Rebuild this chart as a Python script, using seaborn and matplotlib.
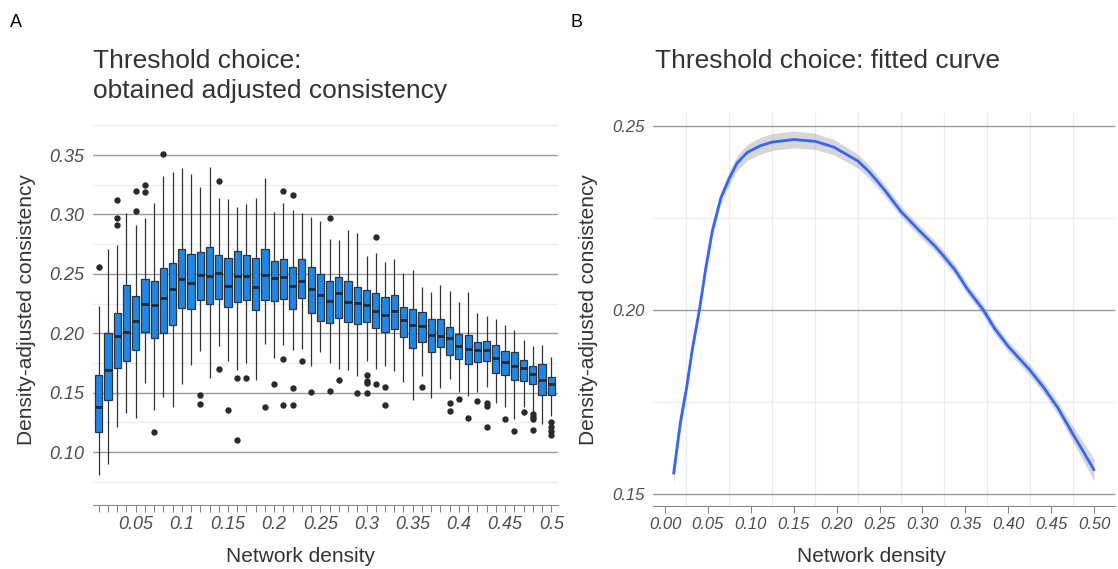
import numpy as np
import pandas as pd
import matplotlib
matplotlib.use("Agg")
import matplotlib.pyplot as plt
import seaborn as sns

# ---------------- data: panel A (box summaries) ----------------
density = [0.01, 0.02, 0.03, 0.04, 0.05, 0.06, 0.07, 0.08, 0.09, 0.10,
           0.11, 0.12, 0.13, 0.14, 0.15, 0.16, 0.17, 0.18, 0.19, 0.20,
           0.21, 0.22, 0.23, 0.24, 0.25, 0.26, 0.27, 0.28, 0.29, 0.30,
           0.31, 0.32, 0.33, 0.34, 0.35, 0.36, 0.37, 0.38, 0.39, 0.40,
           0.41, 0.42, 0.43, 0.44, 0.45, 0.46, 0.47, 0.48, 0.49, 0.50]
whisker_low = [0.081, 0.090, 0.121, 0.133, 0.129, 0.158, 0.135, 0.146, 0.138, 0.157,
               0.173, 0.185, 0.162, 0.189, 0.177, 0.169, 0.175, 0.161, 0.191, 0.179,
               0.190, 0.1855, 0.1866, 0.172, 0.1844, 0.175, 0.170, 0.169, 0.164, 0.1768,
               0.170, 0.1728, 0.1686, 0.1587, 0.1438, 0.164, 0.1452, 0.1537, 0.1616, 0.1503,
               0.1472, 0.1509, 0.1546, 0.1411, 0.1382, 0.1276, 0.1382, 0.1340, 0.1236, 0.1304]
q1 = [0.117, 0.144, 0.171, 0.177, 0.186, 0.201, 0.196, 0.200, 0.207, 0.221,
      0.220, 0.228, 0.225, 0.229, 0.222, 0.2265, 0.228, 0.2195, 0.228, 0.227,
      0.229, 0.220, 0.230, 0.217, 0.210, 0.209, 0.213, 0.2097, 0.2077, 0.2094,
      0.2046, 0.201, 0.2032, 0.197, 0.1878, 0.1923, 0.1842, 0.1883, 0.1818, 0.1787,
      0.1740, 0.1754, 0.1765, 0.1661, 0.1650, 0.1607, 0.1602, 0.1574, 0.1484, 0.1478]
median = [0.138, 0.169, 0.198, 0.201, 0.210, 0.225, 0.224, 0.230, 0.237, 0.246,
          0.242, 0.249, 0.248, 0.251, 0.240, 0.248, 0.248, 0.239, 0.249, 0.2465,
          0.2476, 0.240, 0.2443, 0.2375, 0.232, 0.2274, 0.2336, 0.226, 0.2254, 0.2237,
          0.219, 0.215, 0.219, 0.2111, 0.2067, 0.206, 0.1985, 0.1975, 0.1957, 0.1894,
          0.1866, 0.1855, 0.1861, 0.1790, 0.1756, 0.1720, 0.1706, 0.1658, 0.1610, 0.1576]
q3 = [0.165, 0.200, 0.217, 0.241, 0.231, 0.246, 0.244, 0.255, 0.259, 0.271,
      0.267, 0.268, 0.273, 0.266, 0.263, 0.2696, 0.266, 0.263, 0.271, 0.261,
      0.2625, 0.256, 0.2623, 0.2558, 0.250, 0.2437, 0.247, 0.2437, 0.239, 0.236,
      0.234, 0.2302, 0.2322, 0.2223, 0.220, 0.2178, 0.2117, 0.2117, 0.205, 0.1996,
      0.1984, 0.1928, 0.1936, 0.1903, 0.1852, 0.1838, 0.1773, 0.1726, 0.1742, 0.1633]
whisker_high = [0.223, 0.271, 0.274, 0.301, 0.291, 0.297, 0.310, 0.332, 0.336, 0.339,
                0.334, 0.323, 0.340, 0.314, 0.313, 0.306, 0.309, 0.314, 0.331, 0.302,
                0.310, 0.3036, 0.301, 0.298, 0.2946, 0.2797, 0.2783, 0.2873, 0.284, 0.2654,
                0.2676, 0.2597, 0.2628, 0.251, 0.253, 0.2386, 0.235, 0.2406, 0.2358, 0.2263,
                0.2344, 0.2170, 0.2142, 0.2119, 0.2069, 0.2029, 0.1939, 0.1894, 0.1903, 0.1799]

outlier_density = [0.01, 0.03, 0.03, 0.03, 0.05, 0.05, 0.06, 0.06, 0.07, 0.08,
                   0.12, 0.12, 0.14, 0.14, 0.15, 0.16, 0.16, 0.17, 0.19, 0.20,
                   0.21, 0.21, 0.21, 0.22, 0.22, 0.22, 0.23, 0.24, 0.26, 0.26,
                   0.27, 0.29, 0.30, 0.30, 0.30, 0.30, 0.31, 0.31, 0.32, 0.32,
                   0.36, 0.39, 0.39, 0.40, 0.41, 0.42, 0.43, 0.43, 0.43, 0.45,
                   0.46, 0.47, 0.48, 0.48, 0.48, 0.48, 0.50, 0.50, 0.50, 0.50]
outlier_value = [0.256, 0.312, 0.297, 0.291, 0.320, 0.303, 0.325, 0.319, 0.117, 0.351,
                 0.148, 0.1405, 0.328, 0.170, 0.135, 0.162, 0.110, 0.162, 0.138, 0.157,
                 0.320, 0.178, 0.140, 0.3165, 0.154, 0.140, 0.177, 0.1506, 0.2966, 0.151,
                 0.161, 0.150, 0.165, 0.1596, 0.1577, 0.1495, 0.281, 0.157, 0.1546, 0.140,
                 0.1545, 0.1416, 0.1343, 0.1447, 0.1290, 0.1433, 0.1411, 0.1391, 0.1211, 0.1278,
                 0.1177, 0.1340, 0.1320, 0.1298, 0.1276, 0.1183, 0.1253, 0.1214, 0.1180, 0.1143]

# ---------------- data: panel B (fitted curve) ----------------
curve_x = [0.010, 0.018, 0.025, 0.032, 0.040, 0.0475, 0.055, 0.065, 0.075, 0.084,
           0.096, 0.111, 0.125, 0.150, 0.175, 0.197, 0.225, 0.2375, 0.249, 0.257,
           0.275, 0.2955, 0.315, 0.325, 0.338, 0.353, 0.371, 0.384, 0.400, 0.425,
           0.442, 0.458, 0.475, 0.500]
curve_fit = [0.1555, 0.1696, 0.1787, 0.1896, 0.2000, 0.2114, 0.2214, 0.2305, 0.2359, 0.2400,
             0.2429, 0.2447, 0.2457, 0.2464, 0.2459, 0.2443, 0.2405, 0.2377, 0.2346, 0.2323,
             0.2268, 0.2218, 0.2173, 0.2146, 0.2109, 0.2055, 0.2000, 0.1950, 0.1901, 0.1837,
             0.1787, 0.1733, 0.1664, 0.1565]
curve_halfwidth = [0.0028, 0.0022, 0.0017, 0.0015, 0.0015, 0.0015, 0.0015, 0.0016, 0.0018, 0.0020,
                   0.0022, 0.0023, 0.0023, 0.0023, 0.0022, 0.0021, 0.0019, 0.0018, 0.0017, 0.0016,
                   0.0015, 0.0015, 0.0015, 0.0015, 0.0015, 0.0015, 0.0015, 0.0015, 0.0015, 0.0016,
                   0.0016, 0.0018, 0.0021, 0.0030]

# ---------------- styling ----------------
sns.set_style("white")
plt.rcParams["font.family"] = ["Liberation Sans", "DejaVu Sans"]

BOX_FILL = "#1A87EC"
DARK = "#333333"
TICKTXT = "#4d4d4d"
MAJOR = "#9a9a9a"
MINOR = "#ececec"

cats = [f"{d:.2f}" for d in density]
rows = []
for c, lo, a, m, b, hi in zip(cats, whisker_low, q1, median, q3, whisker_high):
    for v in (lo, a, m, b, hi):
        rows.append({"density": c, "value": v})
box_df = pd.DataFrame(rows)
out_df = pd.DataFrame({"density": [f"{d:.2f}" for d in outlier_density],
                       "value": outlier_value})

W, H = 1118, 569
fig = plt.figure(figsize=(W / 100, H / 100), dpi=100)
axA = fig.add_axes([93 / W, 1 - 505 / H, (557.7 - 93) / W, (505 - 119.4) / H])
axB = fig.add_axes([652.6 / W, 1 - 505.8 / H, (1115 - 652.6) / W, (505.8 - 113.4) / H])

# ---------------- panel A ----------------
sns.boxplot(data=box_df, x="density", y="value", order=cats, whis=(0, 100),
            width=0.78, color=BOX_FILL, saturation=1, linecolor=DARK,
            linewidth=0.9, showfliers=False, showcaps=False,
            medianprops={"linewidth": 2.0, "color": "#2a2a2a"}, ax=axA)
sns.stripplot(data=out_df, x="density", y="value", order=cats, jitter=False,
              color="#2a2a2a", size=4.6, linewidth=0, ax=axA)

axA.set_xlim(-0.62, 49.7)
axA.set_ylim(0.0554, 0.38)
axA.set_yticks([0.10, 0.15, 0.20, 0.25, 0.30, 0.35])
axA.set_yticklabels(["0.10", "0.15", "0.20", "0.25", "0.30", "0.35"])
axA.set_yticks([0.075, 0.125, 0.175, 0.225, 0.275, 0.325, 0.375], minor=True)
axA.grid(False)
axA.yaxis.grid(True, which="major", color=MAJOR, linewidth=1.0)
axA.yaxis.grid(True, which="minor", color=MINOR, linewidth=0.9)
axA.set_axisbelow(True)
axA.set_xticks(range(len(cats)))
xlabs = [f"{d:g}" if (i + 1) % 5 == 0 else "" for i, d in enumerate(density)]
axA.set_xticklabels(xlabs)
axA.tick_params(axis="x", bottom=True, length=5, width=0.6, color="#666666", pad=3,
                labelsize=13, labelcolor=TICKTXT)
axA.tick_params(axis="y", which="both", left=False, length=0, pad=6, labelsize=13,
                labelcolor=TICKTXT)
for lab in axA.get_xticklabels() + axA.get_yticklabels():
    lab.set_fontstyle("italic")
for s in ["top", "right", "left"]:
    axA.spines[s].set_visible(False)
axA.spines["bottom"].set_color("#8a8a8a")
axA.spines["bottom"].set_linewidth(0.8)
axA.set_xlabel("")
axA.set_ylabel("")

# ---------------- panel B ----------------
lower = np.array(curve_fit) - np.array(curve_halfwidth)
upper = np.array(curve_fit) + np.array(curve_halfwidth)
axB.fill_between(curve_x, lower, upper, color="#999999", alpha=0.4, linewidth=0, zorder=2)
sns.lineplot(x=curve_x, y=curve_fit, color="#3366FF", linewidth=2.0, ax=axB, zorder=3)

axB.set_xlim(-0.0145, 0.5245)
axB.set_ylim(0.1467, 0.2535)
axB.set_xticks([0.00, 0.05, 0.10, 0.15, 0.20, 0.25, 0.30, 0.35, 0.40, 0.45, 0.50])
axB.set_xticklabels([f"{v:.2f}" for v in axB.get_xticks()])
axB.set_xticks([0.025, 0.075, 0.125, 0.175, 0.225, 0.275, 0.325, 0.375, 0.425, 0.475], minor=True)
axB.set_yticks([0.15, 0.20, 0.25])
axB.set_yticklabels(["0.15", "0.20", "0.25"])
axB.set_yticks([0.175, 0.225], minor=True)
axB.grid(False)
axB.yaxis.grid(True, which="major", color=MAJOR, linewidth=1.0)
axB.yaxis.grid(True, which="minor", color=MINOR, linewidth=0.9)
axB.xaxis.grid(True, which="minor", color=MINOR, linewidth=0.9)
axB.set_axisbelow(True)
axB.tick_params(axis="x", which="major", bottom=True, length=5, width=0.6, color="#666666",
                pad=3, labelsize=12, labelcolor=TICKTXT)
axB.tick_params(axis="x", which="minor", bottom=False, length=0)
axB.tick_params(axis="y", which="both", left=False, length=0, pad=6, labelsize=12,
                labelcolor=TICKTXT)
for lab in axB.get_xticklabels() + axB.get_yticklabels():
    lab.set_fontstyle("italic")
for s in ["top", "right", "left"]:
    axB.spines[s].set_visible(False)
axB.spines["bottom"].set_color("#8a8a8a")
axB.spines["bottom"].set_linewidth(0.8)
axB.set_xlabel("")
axB.set_ylabel("")

# ---------------- texts ----------------
TXT = "#333333"
fig.text(10 / W, 1 - 27 / H, "A", fontsize=13, color="black", va="baseline")
fig.text(570 / W, 1 - 27 / H, "B", fontsize=13, color="black", va="baseline")
fig.text(93 / W, 1 - 68 / H, "Threshold choice:", fontsize=19, color=TXT, va="baseline")
fig.text(93 / W, 1 - 98 / H, "obtained adjusted consistency", fontsize=19, color=TXT, va="baseline")
fig.text(655 / W, 1 - 68 / H, "Threshold choice: fitted curve", fontsize=19, color=TXT, va="baseline")
fig.text(27 / W, 1 - 310 / H, "Density-adjusted consistency", fontsize=15, color=TXT,
         rotation=90, ha="center", va="center")
fig.text(588 / W, 1 - 310 / H, "Density-adjusted consistency", fontsize=15, color=TXT,
         rotation=90, ha="center", va="center")
fig.text(300 / W, 1 - 556 / H, "Network density", fontsize=15, color=TXT, ha="center", va="center")
fig.text(871 / W, 1 - 556 / H, "Network density", fontsize=15, color=TXT, ha="center", va="center")

fig.savefig("out.png", dpi=100, facecolor="white")
